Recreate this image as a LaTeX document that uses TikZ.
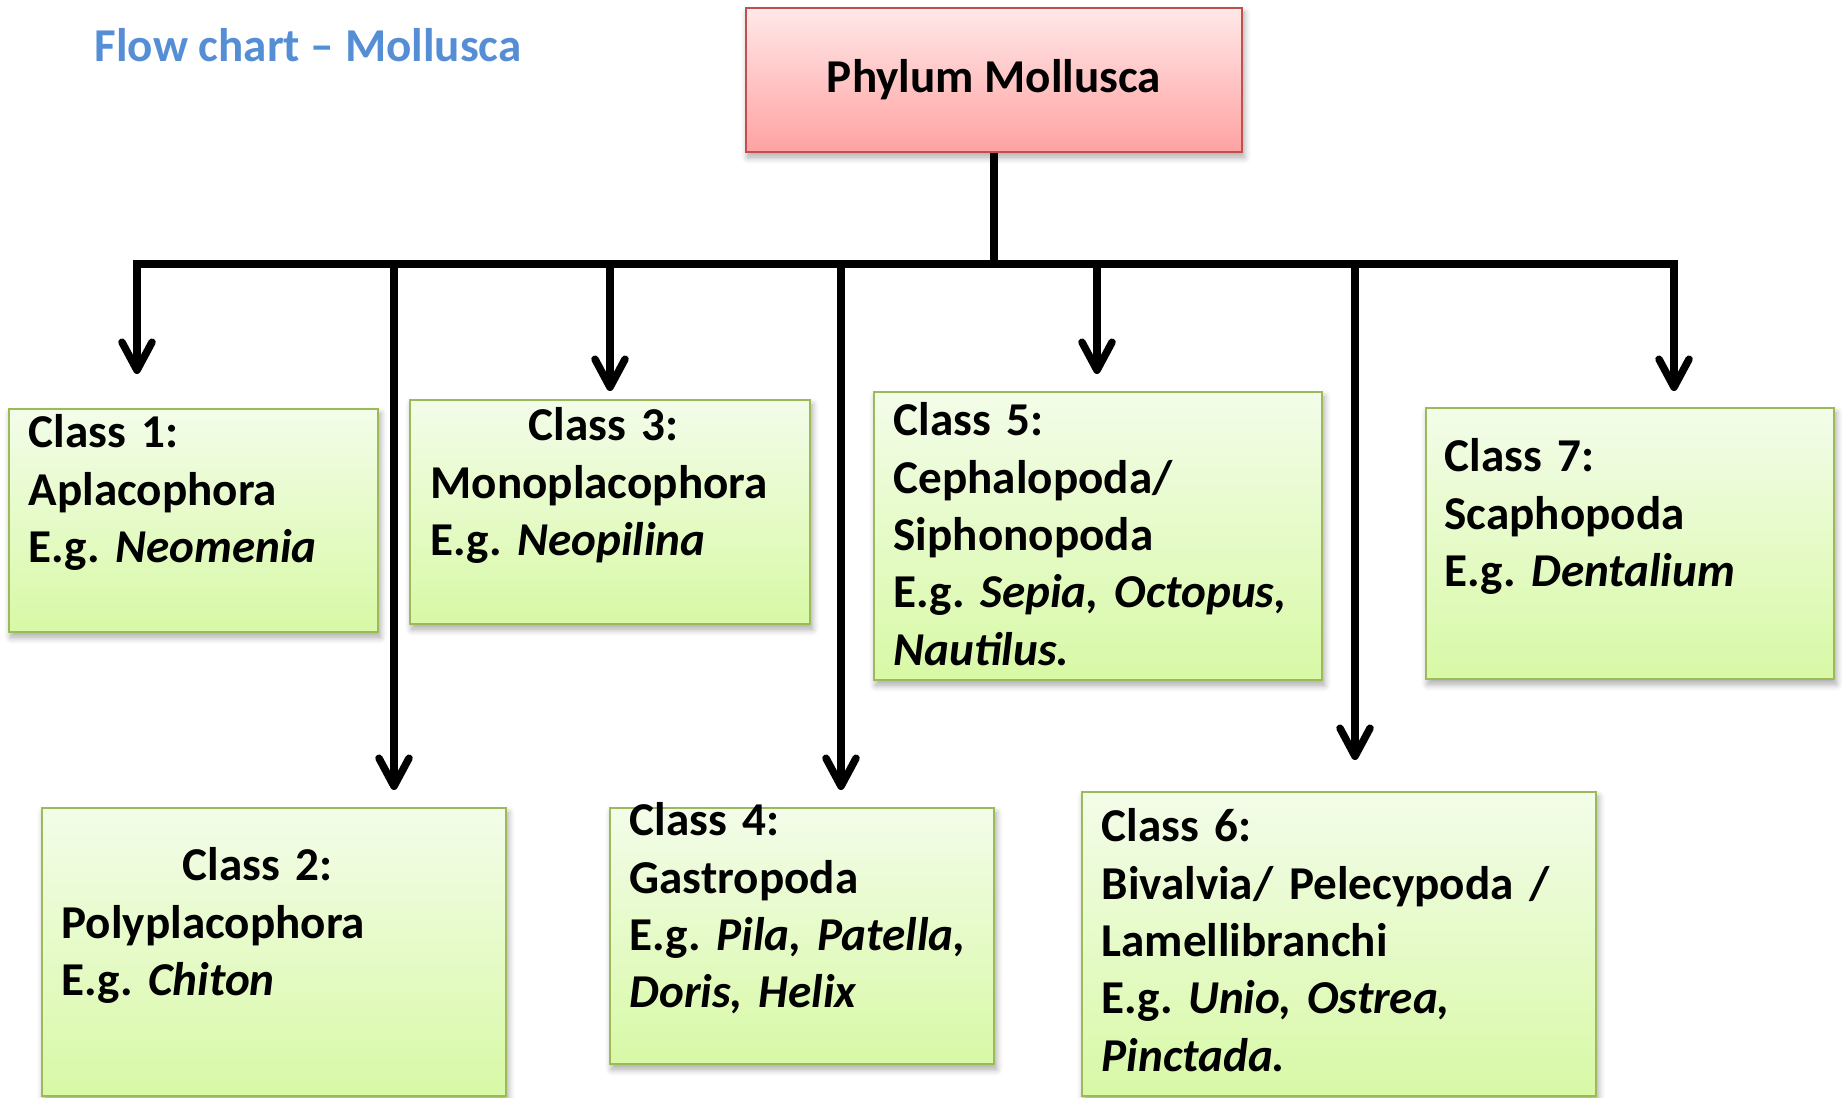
\documentclass[tikz,border=0pt]{standalone}
\usepackage{fontspec}
\setmainfont{Carlito}
\usepackage{xcolor}
\usepackage{tikz}
\usetikzlibrary{positioning, arrows.meta, shadows.blur}

\definecolor{titleblue}{HTML}{558ED5}
\definecolor{pinktop}{HTML}{FFE8E8}
\definecolor{pinkbot}{HTML}{FFA2A2}
\definecolor{pinkline}{HTML}{C0504D}
\definecolor{greentop}{HTML}{F3FCE9}
\definecolor{greenbot}{HTML}{D8F9A6}
\definecolor{greenline}{HTML}{9BBB59}

\tikzset{
  boxfont/.style={font=\fontsize{13.4pt}{16.3pt}\selectfont\bfseries\frenchspacing},
  softshadow/.style={blur shadow={shadow xshift=0.02cm, shadow yshift=-0.05cm, shadow blur steps=6, shadow opacity=35}},
  phylumbox/.style={draw=pinkline, line width=0.025cm, top color=pinktop, bottom color=pinkbot,
    minimum width=4.96cm, minimum height=1.44cm, boxfont, softshadow},
  classbox/.style={draw=greenline, line width=0.02cm, top color=greentop, bottom color=greenbot, softshadow},
  classtext/.style={boxfont, text width=5cm, align=left, inner sep=0pt, anchor=base west},
  conn/.style={line width=0.075cm, black},
  arrowline/.style={conn, -{Straight Barb[length=0.28cm, width=0.3cm, round]}}
}

\begin{document}
\frenchspacing
\begin{tikzpicture}[x=0.01cm, y=-0.01cm]
      \useasboundingbox (0,0) rectangle (1842,1098);

      % Title
      \node[boxfont, text=titleblue, anchor=base west, inner sep=0pt] (title) at (94,62) {Flow chart – Mollusca};

      % Phylum
      \node[phylumbox] (phylum) at (994,80) {Phylum Mollusca};

      % Bar and branch points
      \coordinate (junction) at (994,264);
      \coordinate (barL) at (137,264);
      \coordinate (barR) at (1674,264);
      \draw[conn] (phylum.south) -- (junction);
      \draw[conn, line cap=rect] (barL) -- (barR);

      % Arrow ends
      \coordinate (e1) at (137,374);
      \coordinate (e2) at (394,790);
      \coordinate (e3) at (610,391);
      \coordinate (e4) at (841,790);
      \coordinate (e5) at (1097,374);
      \coordinate (e6) at (1355,760);
      \coordinate (e7) at (1674,391);
      \draw[arrowline] (barL) -- (e1);
      \draw[arrowline] (e2 |- junction) -- (e2);
      \draw[arrowline] (e3 |- junction) -- (e3);
      \draw[arrowline] (e4 |- junction) -- (e4);
      \draw[arrowline] (e5 |- junction) -- (e5);
      \draw[arrowline] (e6 |- junction) -- (e6);
      \draw[arrowline] (barR) -- (e7);

      % Upper row of classes
      \node[classbox, minimum width=3.69cm, minimum height=2.23cm] (c1) at (193.5,520.5) {};
      \node[classtext] (t1) at ([shift={(20,40)}]c1.north west) {Class 1:\\Aplacophora\\E.g. \textit{Neomenia}};

      \node[classbox, minimum width=4.00cm, minimum height=2.24cm] (c3) at (610,512) {};
      \node[classtext] (t3) at ([shift={(21,42)}]c3.north west) {\hspace*{0.98cm}Class 3:\\Monoplacophora\\E.g. \textit{Neopilina}};

      \node[classbox, minimum width=4.48cm, minimum height=2.88cm] (c5) at (1098,536) {};
      \node[classtext] (t5) at ([shift={(20,45)}]c5.north west) {Class 5:\\Cephalopoda/\\Siphonopoda\\E.g. \textit{Sepia, Octopus,}\\\textit{Nautilus.}};

      \node[classbox, minimum width=4.08cm, minimum height=2.71cm] (c7) at (1630,543.5) {};
      \node[classtext] (t7) at ([shift={(19,65)}]c7.north west) {Class 7:\\Scaphopoda\\E.g. \textit{Dentalium}};

      % Lower row of classes
      \node[classbox, minimum width=4.64cm, minimum height=2.88cm] (c2) at (274,952) {};
      \node[classtext] (t2) at ([shift={(20,74)}]c2.north west) {\hspace*{1.21cm}Class 2:\\Polyplacophora\\E.g. \textit{Chiton}};

      \node[classbox, minimum width=3.84cm, minimum height=2.56cm] (c4) at (802,936) {};
      \node[classtext] (t4) at ([shift={(20,29)}]c4.north west) {Class 4:\\Gastropoda\\E.g. \textit{Pila, Patella,}\\\textit{Doris, Helix}};

      \node[classbox, minimum width=5.14cm, minimum height=3.04cm] (c6) at (1339,944) {};
      \node[classtext] (t6) at ([shift={(20,51)}]c6.north west) {Class 6:\\Bivalvia/ Pelecypoda /\\Lamellibranchi\\E.g. \textit{Unio, Ostrea,}\\\textit{Pinctada.}};
\end{tikzpicture}
\end{document}
